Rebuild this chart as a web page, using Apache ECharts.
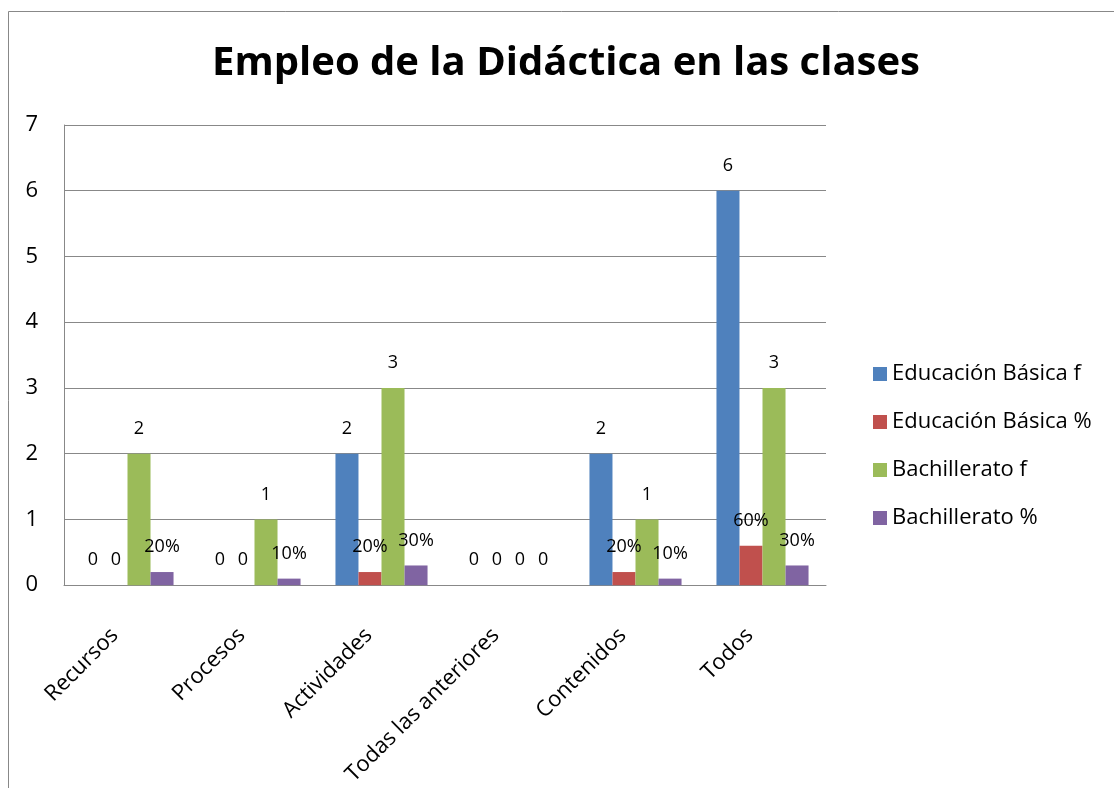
<!DOCTYPE html>
<html>
<head>
<meta charset="utf-8">
<script src="https://cdn.jsdelivr.net/npm/echarts@6/dist/echarts.min.js"></script>
<style>html,body{margin:0;padding:0;background:#fff}#c{width:1114px;height:788px}</style>
</head>
<body>
<div id="c"></div>
<script>
const categories = ['Recursos', 'Procesos', 'Actividades', 'Todas las anteriores', 'Contenidos', 'Todos'];
const seriesNames = ['Educación Básica f', 'Educación Básica %', 'Bachillerato f', 'Bachillerato %'];
const basicaF = [0, 0, 2, 0, 2, 6];
const basicaPct = [0, 0, 0.2, 0, 0.2, 0.6];
const bachF = [2, 1, 3, 0, 1, 3];
const bachPct = [0.2, 0.1, 0.3, 0, 0.1, 0.3];
const colors = ['#4F81BD', '#C0504D', '#9BBB59', '#8064A2'];
const yTicks = [0, 1, 2, 3, 4, 5, 6, 7];

const FONT = 'Open Sans';
const fmtF = p => String(p.value);
const fmtPct = p => p.value === 0 ? '0' : Math.round(p.value * 100) + '%';

function mk(name, data, color, fmt) {
  return {
    name, type: 'bar', data,
    itemStyle: { color },
    barGap: '0%', barCategoryGap: '27.5%',
    label: { show: true, position: 'top', distance: 16, color: '#000', fontSize: 18, fontFamily: FONT, formatter: fmt },
    emphasis: { disabled: true }
  };
}

const chart = echarts.init(document.getElementById('c'));
chart.setOption({
  backgroundColor: '#fff',
  animation: false,
  color: colors,
  title: {
    text: 'Empleo de la Didáctica en las clases',
    left: 561, top: 39, textAlign: 'center',
    textStyle: { fontFamily: FONT, fontWeight: 'bold', fontSize: 40, color: '#000' }
  },
  graphic: [{
    type: 'rect', shape: { x: 8.5, y: 11.5, width: 1200, height: 900 },
    style: { fill: 'none', stroke: '#888', lineWidth: 1 }, silent: true, z: -1
  }],
  legend: {
    orient: 'vertical', left: 868, top: 358,
    itemWidth: 14, itemHeight: 14, itemGap: 26,
    icon: 'rect',
    textStyle: { fontFamily: FONT, fontSize: 22, color: '#000' },
    data: seriesNames
  },
  grid: { left: 64, right: 288, top: 125, bottom: 202, containLabel: false },
  xAxis: {
    type: 'category', data: categories,
    axisLine: { lineStyle: { color: '#888', width: 1 } },
    axisTick: { show: false },
    axisLabel: { interval: 0, rotate: 45, margin: 34, fontSize: 22, fontFamily: FONT, color: '#000', padding: [0, 18, 0, 0] }
  },
  yAxis: {
    type: 'value', min: yTicks[0], max: yTicks[yTicks.length - 1], interval: 1,
    axisLine: { show: true, lineStyle: { color: '#888', width: 1 } },
    axisTick: { show: false },
    splitLine: { lineStyle: { color: '#888', width: 1 } },
    axisLabel: { margin: 26, fontSize: 22, fontFamily: FONT, color: '#000' }
  },
  series: [
    mk(seriesNames[0], basicaF, colors[0], fmtF),
    mk(seriesNames[1], basicaPct, colors[1], fmtPct),
    mk(seriesNames[2], bachF, colors[2], fmtF),
    mk(seriesNames[3], bachPct, colors[3], fmtPct)
  ]
});
</script>
</body>
</html>
